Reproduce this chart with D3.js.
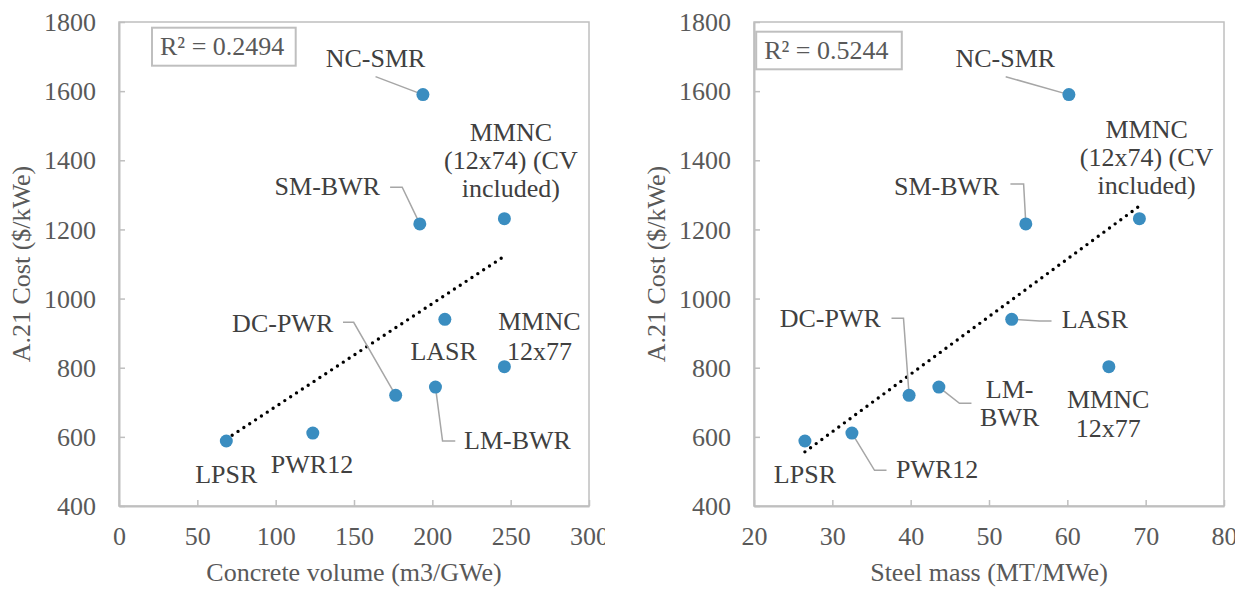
<!DOCTYPE html>
<html>
<head>
<meta charset="utf-8">
<script src="https://cdn.jsdelivr.net/npm/d3@7"></script>
<style>
  html, body { margin: 0; padding: 0; background: #fff; }
  svg { display: block; }
  text { font-family: "Liberation Serif", "Times New Roman", serif; }
</style>
</head>
<body>
<svg id="chart" width="1235" height="590"></svg>
<script>
(function () {
  "use strict";

  // reactor designs, same order in every array
  const designs = ["LPSR", "PWR12", "DC-PWR", "LM-BWR", "LASR", "MMNC 12x77", "SM-BWR", "NC-SMR", "MMNC (12x74) (CV included)"];
  const cost = [588, 611, 720, 744, 940, 803, 1216, 1590, 1231];          // A.21 cost $/kWe
  const concrete = [68.5, 123.7, 176.6, 202, 208, 246, 192, 194, 246];   // m3/GWe
  const steel = [26.5, 32.5, 39.8, 43.6, 52.9, 65.3, 54.7, 60.2, 69.2];  // MT/MWe

  const costTicks = [400, 600, 800, 1000, 1200, 1400, 1600, 1800];
  const concreteTicks = [0, 50, 100, 150, 200, 250, 300];
  const steelTicks = [20, 30, 40, 50, 60, 70, 80];

  const yTitle = "A.21 Cost ($/kWe)";
  const xTitles = ["Concrete volume (m3/GWe)", "Steel mass (MT/MWe)"];
  const r2Text = ["R² = 0.2494", "R² = 0.5244"];

  // label placement, offsets in px from the marker
  const leftLabels = {
    "LPSR": { lines: ["LPSR"], dx: 0, dy: [41.7] },
    "PWR12": { lines: ["PWR12"], dx: -0.8, dy: [40.3] },
    "DC-PWR": { lines: ["DC-PWR"], dx: -113, dy: [-63.7], leader: [[-42, -73.1], [-52.7, -73.1]] },
    "LM-BWR": { lines: ["LM-BWR"], dx: 82, dy: [62.2], leader: [[7.1, 54], [19.8, 54]] },
    "LASR": { lines: ["LASR"], dx: -1.2, dy: [40.7] },
    "MMNC 12x77": { lines: ["MMNC", "12x77"], dx: 35, dy: [-36.7, -6.7] },
    "SM-BWR": { lines: ["SM-BWR"], dx: -92.5, dy: [-29], leader: [[-17.6, -36.6], [-29.7, -36.6]] },
    "NC-SMR": { lines: ["NC-SMR"], dx: -47.4, dy: [-28], leader: [[-47.4, -18]] },
    "MMNC (12x74) (CV included)": { lines: ["MMNC", "(12x74) (CV", "included)"], dx: 6.5, dy: [-77.7, -49.7, -21.7] }
  };
  const rightLabels = {
    "LPSR": { lines: ["LPSR"], dx: 0, dy: [41.7] },
    "PWR12": { lines: ["PWR12"], dx: 85.3, dy: [44.7], leader: [[22.6, 37.3], [34.6, 37.3]] },
    "DC-PWR": { lines: ["DC-PWR"], dx: -78.8, dy: [-68.7], leader: [[-5.6, -77.1], [-17.6, -77.1]] },
    "LM-BWR": { lines: ["LM-", "BWR"], dx: 70.8, dy: [11.2, 38.9], leader: [[20.6, 16.2], [32.6, 16.2]] },
    "LASR": { lines: ["LASR"], dx: 83.2, dy: [9], leader: [[27.8, 1.7], [39.8, 1.7]] },
    "MMNC 12x77": { lines: ["MMNC", "12x77"], dx: -0.7, dy: [41.6, 70] },
    "SM-BWR": { lines: ["SM-BWR"], dx: -79.1, dy: [-29], leader: [[-2.2, -39.9], [-15.4, -39.9]] },
    "NC-SMR": { lines: ["NC-SMR"], dx: -63.6, dy: [-28], leader: [[-63.2, -17.9]] },
    "MMNC (12x74) (CV included)": { lines: ["MMNC", "(12x74) (CV", "included)"], dx: 7.2, dy: [-80.7, -52.7, -24.7] }
  };

  const FONT = 26;
  const SERIF = '"Liberation Serif", "Times New Roman", serif';
  const PLOT_TOP = 22;
  const PLOT_BOTTOM = 506;
  const DOT = "#3a8dc0";
  const AXIS = "#bfbfbf";

  const svg = d3.select("#chart");
  const defs = svg.append("defs");
  defs.append("clipPath").attr("id", "clipLeft")
    .append("rect").attr("x", 0).attr("y", 0).attr("width", 605).attr("height", 590);

  function fit(xs, ys) {
    const mx = d3.mean(xs), my = d3.mean(ys);
    let sxy = 0, sxx = 0;
    xs.forEach((x, i) => { sxy += (x - mx) * (ys[i] - my); sxx += (x - mx) * (x - mx); });
    const slope = sxy / sxx;
    return (x) => my + slope * (x - mx);
  }

  function drawPanel(opts) {
    const g = svg.append("g");
    if (opts.clip) g.attr("clip-path", "url(#" + opts.clip + ")");

    const x = d3.scaleLinear().domain(d3.extent(opts.xTicks)).range([opts.left, opts.right]);
    const y = d3.scaleLinear().domain(d3.extent(costTicks)).range([PLOT_BOTTOM, PLOT_TOP]);

    // frame
    g.append("rect")
      .attr("x", opts.left).attr("y", PLOT_TOP)
      .attr("width", opts.right - opts.left).attr("height", PLOT_BOTTOM - PLOT_TOP)
      .attr("fill", "none").attr("stroke", AXIS).attr("stroke-width", 1.5);

    const fmt = d3.format("d");
    const xAxis = g.append("g")
      .attr("transform", `translate(0,${PLOT_BOTTOM})`)
      .call(d3.axisBottom(x).tickValues(opts.xTicks).tickFormat(fmt).tickSizeInner(-6).tickSizeOuter(0));
    const yAxis = g.append("g")
      .attr("transform", `translate(${opts.left},0)`)
      .call(d3.axisLeft(y).tickValues(costTicks).tickFormat(fmt).tickSizeInner(-6).tickSizeOuter(0));
    [xAxis, yAxis].forEach((a) => {
      a.attr("font-family", SERIF).attr("font-size", FONT);
      a.select(".domain").attr("stroke", AXIS).attr("stroke-width", 2);
      a.selectAll(".tick line").attr("stroke", AXIS).attr("stroke-width", 1.5);
      a.selectAll(".tick text").attr("fill", "#595959");
    });
    xAxis.selectAll(".tick text").attr("y", 39).attr("dy", 0);
    yAxis.selectAll(".tick text").attr("x", -23).attr("dy", "0.33em");

    // axis titles
    g.append("text")
      .attr("x", (opts.left + opts.right) / 2).attr("y", 581)
      .attr("text-anchor", "middle").attr("fill", "#595959")
      .style("font-size", FONT + "px")
      .text(opts.xTitle);
    g.append("text")
      .attr("transform", `translate(${opts.left - 89},${(PLOT_TOP + PLOT_BOTTOM) / 2}) rotate(-90)`)
      .attr("text-anchor", "middle").attr("fill", "#595959")
      .style("font-size", FONT + "px")
      .text(yTitle);

    // trendline
    const line = fit(opts.xs, cost);
    const [x0, x1] = d3.extent(opts.xs);
    g.append("line")
      .attr("x1", x(x0)).attr("y1", y(line(x0)))
      .attr("x2", x(x1)).attr("y2", y(line(x1)))
      .attr("stroke", "#000").attr("stroke-width", 3.4)
      .attr("stroke-linecap", "round").attr("stroke-dasharray", "0 7");

    // leader lines
    const pts = designs.map((d, i) => ({ name: d, px: x(opts.xs[i]), py: y(cost[i]) }));
    pts.forEach((p) => {
      const lab = opts.labels[p.name];
      if (!lab.leader) return;
      const coords = [[p.px, p.py]].concat(lab.leader.map(([a, b]) => [p.px + a, p.py + b]));
      g.append("path")
        .attr("d", d3.line()(coords))
        .attr("fill", "none").attr("stroke", "#a6a6a6").attr("stroke-width", 1.5);
    });

    // markers
    g.selectAll("circle.pt")
      .data(pts)
      .enter()
      .append("circle")
      .attr("class", "pt")
      .attr("cx", (d) => d.px).attr("cy", (d) => d.py)
      .attr("r", 6.5)
      .attr("fill", DOT);

    // data labels
    pts.forEach((p) => {
      const lab = opts.labels[p.name];
      lab.lines.forEach((txt, k) => {
        g.append("text")
          .attr("x", p.px + lab.dx).attr("y", p.py + lab.dy[k])
          .attr("text-anchor", "middle").attr("fill", "#404040")
          .style("font-size", FONT + "px")
          .text(txt);
      });
    });

    // R² box
    const rb = opts.r2;
    g.append("rect")
      .attr("x", rb.x).attr("y", rb.y).attr("width", rb.w).attr("height", rb.h)
      .attr("fill", "#fff").attr("stroke", AXIS).attr("stroke-width", 2);
    g.append("text")
      .attr("x", rb.x + 8).attr("y", rb.y + 27.5)
      .attr("fill", "#595959")
      .style("font-size", FONT + "px")
      .text(rb.text);
  }

  drawPanel({
    left: 119, right: 589, xTicks: concreteTicks, xs: concrete,
    xTitle: xTitles[0], labels: leftLabels, clip: "clipLeft",
    r2: { x: 152, y: 27.7, w: 143.7, h: 38, text: r2Text[0] }
  });
  drawPanel({
    left: 754, right: 1224, xTicks: steelTicks, xs: steel,
    xTitle: xTitles[1], labels: rightLabels, clip: null,
    r2: { x: 756.2, y: 31.7, w: 145.6, h: 37.6, text: r2Text[1] }
  });
})();
</script>
</body>
</html>
